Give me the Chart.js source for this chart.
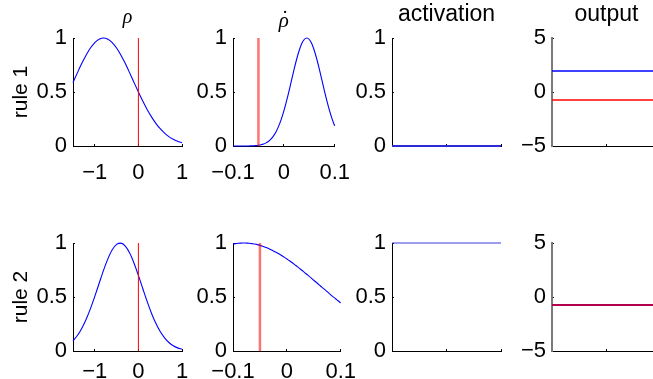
<!DOCTYPE html>
<html><head><meta charset="utf-8">
<script src="https://cdn.jsdelivr.net/npm/chart.js@4"></script>
<style>
html,body{margin:0;padding:0;background:#fff;overflow:hidden;width:653px;height:379px;}
#wrap{position:relative;width:653px;height:379px;overflow:hidden;background:#fff;}
canvas{position:absolute;}
</style></head><body><div id="wrap"></div>
<script>
// ---------- data ----------
// column titles: rho, rho-dot (dot accent stacked over rho), activation, output
const colTitles = ['\u03C1', ['\u02D9', '\u03C1'], 'activation', 'output'];
const rowTitles = ['rule 1', 'rule 2'];

const rhoX = [-1.5,-1.4,-1.3,-1.2,-1.1,-1.0,-0.9,-0.8,-0.7,-0.6,-0.5,-0.4,-0.3,-0.2,-0.1,0.0,0.1,0.2,0.3,0.4,0.5,0.6,0.7,0.8,0.9,1.0];
const rule1Rho = [0.588,0.677,0.763,0.841,0.907,0.958,0.989,1.000,0.989,0.958,0.907,0.841,0.763,0.677,0.588,0.500,0.416,0.338,0.270,0.210,0.160,0.120,0.087,0.062,0.044,0.030];
const rule2Rho = [0.094,0.143,0.209,0.292,0.392,0.506,0.627,0.747,0.853,0.937,0.987,0.999,0.971,0.907,0.813,0.700,0.579,0.459,0.350,0.256,0.180,0.122,0.079,0.049,0.029,0.017];

const rhoDotX = [-0.100,-0.095,-0.090,-0.085,-0.080,-0.075,-0.070,-0.065,-0.060,-0.055,-0.050,-0.045,-0.040,-0.035,-0.030,-0.025,-0.020,-0.015,-0.010,-0.005,0.000,0.005,0.010,0.015,0.020,0.025,0.030,0.035,0.040,0.045,0.050,0.055,0.060,0.065,0.070,0.075,0.080,0.085,0.090,0.095,0.100];
const rule1RhoDot = [0,0,0,0.0001,0.0002,0.0003,0.0006,0.0012,0.0022,0.0039,0.0066,0.011,0.018,0.029,0.044,0.066,0.096,0.135,0.186,0.249,0.325,0.411,0.506,0.607,0.707,0.801,0.882,0.946,0.986,1.000,0.986,0.946,0.882,0.801,0.707,0.607,0.506,0.411,0.325,0.249,0.186];
const rule2RhoDot = [0.990,0.994,0.998,0.999,1.000,0.999,0.998,0.994,0.990,0.985,0.978,0.970,0.961,0.951,0.939,0.927,0.914,0.900,0.885,0.869,0.852,0.835,0.817,0.798,0.779,0.759,0.739,0.718,0.698,0.677,0.655,0.634,0.613,0.591,0.570,0.549,0.527,0.506,0.486,0.465,0.445];

const rhoMarker = [0, 0];            // current rho (rule1, rule2)
const rhoDotMarker = [-0.05, -0.05]; // current rho-dot
const activation = [0, 1];           // rule1, rule2
const outputBlue = [1.95, -0.73];
const outputRed = [-0.74, -0.73];

const rhoTicks = [-1, 0, 1];          const rhoTickLabels = ['\u22121', '0', '1'];
const rhoDotTicks = [-0.1, 0, 0.1];   const rhoDotTickLabels = ['\u22120.1', '0', '0.1'];
const unitTicks = [0, 0.5, 1];        const unitTickLabels = ['0', '0.5', '1'];
const outTicks = [-5, 0, 5];          const outTickLabels = ['\u22125', '0', '5'];
const plainTicks = [0, 1, 2];         const plainTickLabels = ['', '', ''];

// ---------- layout ----------
const COL_L = [73, 233, 392, 552], ROW_T = [38, 243], PW = 109, PH = 108;
const XAXIS_H = 40, RIGHT_PAD = 24, ROW2_TOP = 22;
const FONT = "'Liberation Sans', Arial, Helvetica, sans-serif";
const SERIF = "'Liberation Serif', 'Times New Roman', serif";
const TICK_SIZE = 22;
const wrap = document.getElementById('wrap');

function pts(xs, ys) { return xs.map((x, i) => ({x: x, y: ys[i]})); }
function axis(min, max, ticks, labels, pos, fitSize, pad, extra) {
  const a = {
    type: 'linear', position: pos, min: min, max: max,
    border: {display: true, color: '#000', width: 1, z: -1},
    grid: {display: true, drawOnChartArea: false, drawTicks: true, tickLength: -2, color: '#000', lineWidth: 1, z: -1},
    ticks: {color: '#000', font: {family: FONT, size: TICK_SIZE}, padding: pad,
            autoSkip: false, maxRotation: 0, minRotation: 0,
            callback: (v, i) => labels[i]},
    afterBuildTicks: s => { s.ticks = ticks.map(v => ({value: v})); },
    afterFit: s => { if (pos === 'bottom') s.height = fitSize; else s.width = fitSize; }
  };
  return Object.assign(a, extra || {});
}

function makeChart(r, c, datasets, xs, ys) {
  const yW = c === 0 ? 73 : 55;
  const topSpace = r === 0 ? ROW_T[0] : ROW2_TOP;
  const w = yW + PW + RIGHT_PAD, h = topSpace + PH + XAXIS_H;
  const cv = document.createElement('canvas');
  cv.width = w; cv.height = h;
  cv.style.left = (COL_L[c] - yW) + 'px';
  cv.style.top = (ROW_T[r] - topSpace) + 'px';
  cv.style.width = w + 'px'; cv.style.height = h + 'px';
  wrap.appendChild(cv);

  let title = {display: false};
  if (r === 0) {
    let font, pTop, lh;
    if (c === 0) { font = {family: SERIF, style: 'italic', size: 20, weight: 'normal'}; lh = 24; pTop = 6; }
    else if (c === 1) { font = {family: SERIF, style: 'italic', size: 21, weight: 'normal', lineHeight: 0.1}; lh = 4.2; pTop = 18; }
    else { font = {family: FONT, size: 23, weight: 'normal'}; lh = 27.6; pTop = 0.5; }
    title = {display: true, text: colTitles[c], fullSize: false, color: '#000', font: font,
             padding: {top: pTop, bottom: topSpace - lh - pTop}};
  }

  const yExtra = c === 0 ? {title: {display: true, text: rowTitles[r], color: '#000',
      font: {family: FONT, size: 21}, padding: {top: 9, bottom: 0}}} : {};
  const yAx = axis(ys.min, ys.max, ys.ticks, ys.labels, 'left', yW, 8, yExtra);
  if (c === 3) yAx.border = {display: true, color: '#7a7a7a', width: 2, z: -1};

  new Chart(cv, {
    type: 'scatter',
    data: {datasets: datasets},
    options: {
      responsive: false, animation: false, devicePixelRatio: 1,
      layout: {padding: {top: r === 0 ? 0 : ROW2_TOP, right: RIGHT_PAD, bottom: 0, left: 0}},
      plugins: {legend: {display: false}, tooltip: {enabled: false}, title: title},
      elements: {point: {radius: 0}},
      scales: {
        x: axis(xs.min, xs.max, xs.ticks, xs.labels, 'bottom', XAXIS_H, r === 0 ? 16 : 10),
        y: yAx
      }
    }
  });
}

// note: Chart.js paints dataset 0 last (on top)
function line(data, color, width, extra) {
  return Object.assign({data: data, showLine: true, borderColor: color, backgroundColor: color,
    borderWidth: width, pointRadius: 0, fill: false, clip: false}, extra || {});
}

const rhoAxes = {min: -1.5, max: 1, ticks: rhoTicks, labels: rhoTickLabels};
const rhoDotAxes = {min: -0.1, max: 0.1, ticks: rhoDotTicks, labels: rhoDotTickLabels};
const plainAxes = {min: 0, max: 2, ticks: plainTicks, labels: plainTickLabels};
const unitAxes = {min: 0, max: 1, ticks: unitTicks, labels: unitTickLabels};
const outAxes = {min: -5, max: 5, ticks: outTicks, labels: outTickLabels};

const rhoCurves = [rule1Rho, rule2Rho];
const rhoDotCurves = [rule1RhoDot, rule2RhoDot];

for (let r = 0; r < 2; r++) {
  makeChart(r, 0, [
    line([{x: rhoMarker[r], y: 0}, {x: rhoMarker[r], y: 1}], '#ff0000', 1),
    line(pts(rhoX, rhoCurves[r]), '#0000ff', 1.1, {cubicInterpolationMode: 'monotone'})
  ], rhoAxes, unitAxes);

  makeChart(r, 1, [
    line([{x: rhoDotMarker[r], y: 0}, {x: rhoDotMarker[r], y: 1}], 'rgba(255,0,0,0.55)', 2.5),
    line(pts(rhoDotX, rhoDotCurves[r]), '#0000ff', 1.1, {cubicInterpolationMode: 'monotone'})
  ], rhoDotAxes, unitAxes);

  makeChart(r, 2, [
    line([{x: 0, y: activation[r]}, {x: 2, y: activation[r]}],
         r === 0 ? '#2a2ad6' : '#3a3ae0', r === 0 ? 2 : 1)
  ], plainAxes, unitAxes);

  const same = outputBlue[r] === outputRed[r];
  makeChart(r, 3, [
    line([{x: 0, y: outputRed[r]}, {x: 2, y: outputRed[r]}], same ? 'rgba(255,0,0,0.7)' : '#ff0000', same ? 2 : 1.5),
    line([{x: 0, y: outputBlue[r]}, {x: 2, y: outputBlue[r]}], '#0000ff', same ? 2 : 1.5)
  ], plainAxes, outAxes);
}
</script>
</body></html>
